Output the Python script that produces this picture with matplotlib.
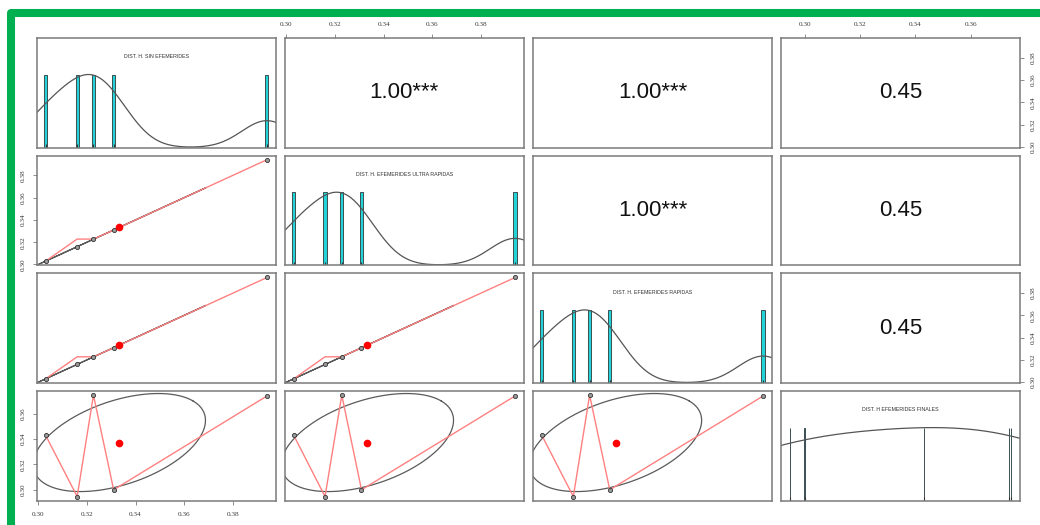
import numpy as np
import matplotlib
matplotlib.use("Agg")
import matplotlib.pyplot as plt
from matplotlib.patches import Rectangle
from matplotlib.ticker import MultipleLocator, FormatStrFormatter

labels = ["DIST. H. SIN EFEMERIDES", "DIST. H. EFEMERIDES ULTRA RAPIDAS",
          "DIST. H. EFEMERIDES RAPIDAS", "DIST. H EFEMERIDES FINALES"]
sin_efem = [0.3030, 0.3160, 0.3227, 0.3310, 0.3940]
ultra_rapidas = [0.3030, 0.3159, 0.3228, 0.3309, 0.3940]
rapidas = [0.3030, 0.3160, 0.3227, 0.3310, 0.3941]
finales = [0.3430, 0.2947, 0.3745, 0.3000, 0.3738]

# lowess curves as drawn (at the sorted x values)
smooth_fast = [0.3030, 0.3228, 0.3228, 0.3309, 0.3940]
smooth_final = [0.3430, 0.2947, 0.3745, 0.3000, 0.3738]

data = [np.array(v) for v in (sin_efem, ultra_rapidas, rapidas, finales)]
smooth = {1: smooth_fast, 2: smooth_fast, 3: smooth_final}
n = len(data)

W, H = 1040, 525
fig = plt.figure(figsize=(W / 100, H / 100), dpi=100)
fig.patch.set_facecolor("white")

frame_col = "#7a7a7a"
tick_font = dict(family="Liberation Serif", size=5.2, color="#3a3a3a")


def lims(v):
    lo, hi = v.min(), v.max()
    pad = (hi - lo) * 0.04
    return lo - pad, hi + pad


def density(v):
    sd = v.std(ddof=1)
    q1, q3 = np.percentile(v, [25, 75])
    bw = 1.06 * min(sd, (q3 - q1) / 1.34) * len(v) ** -0.2 * 1.2
    grid = np.linspace(v.min() - 3 * bw, v.max() + 3 * bw, 512)
    d = np.exp(-0.5 * ((grid[:, None] - v[None, :]) / bw) ** 2).sum(1)
    return grid, d / d.max()


def stars(r, k):
    t = abs(r) * np.sqrt((k - 2) / max(1 - r * r, 1e-12))
    # critical t values for df = 3
    if t > 12.924:
        return "***"
    if t > 5.841:
        return "**"
    if t > 3.182:
        return "*"
    return ""


left0, col_step, pw = 36.7, 248.1, 239
top0, row_step, ph = 38, 117.7, 109.5

for i in range(n):
    for j in range(n):
        l = left0 + j * col_step
        t = top0 + i * row_step
        ax = fig.add_axes([l / W, 1 - (t + ph) / H, pw / W, ph / H])
        for s in ax.spines.values():
            s.set_color(frame_col)
            s.set_linewidth(1.1)
        x = data[j]
        ax.set_xlim(*lims(x))
        if i == j:
            ax.set_ylim(0, 1.5)
            vals = np.unique(x)
            inter = np.diff(vals).min() * (len(vals) - 1) / 41
            ax.bar(vals, 1, width=2 * inter, color="#22D3D8",
                   edgecolor="#3b4f52", linewidth=0.7)
            g, d = density(x)
            ax.plot(g, d, color="#555555", lw=0.9)
            ax.vlines(x, 0, 0.045, color="#333333", lw=0.8)
            ax.text(0.5, 0.83, labels[i], transform=ax.transAxes,
                    ha="center", va="center", fontsize=3.8,
                    family="Liberation Sans", color="#333333")
        else:
            y = data[i]
            ax.set_ylim(*lims(y))
            r = np.corrcoef(x, y)[0, 1]
            if i < j:
                ax.text(0.5, 0.5, f"{r:.2f}{stars(r, len(x))}",
                        transform=ax.transAxes, ha="center", va="center",
                        fontsize=16, family="Liberation Sans", color="#111111")
            else:
                # correlation ellipse as in psych::draw.ellipse
                a = np.linspace(0, 2 * np.pi, 200)
                th = np.sign(r) / np.sqrt(2)
                shape = np.diag([np.sqrt(1 + r), np.sqrt(max(1 - r, 0))]) @ \
                    np.array([[th, th], [-th, th]])
                e = np.column_stack([np.cos(a), np.sin(a)]) @ shape
                ax.plot(e[:, 0] * x.std(ddof=1) + x.mean(),
                        e[:, 1] * y.std(ddof=1) + y.mean(),
                        color="#5a5a5a", lw=0.9)
                order = np.argsort(x)
                ax.plot(x[order], smooth[i], color="#ff8080", lw=1.0)
                ax.plot(x, y, "o", ms=3, mfc="#9a9a9a", mec="#333333", mew=0.6)
                ax.plot(x.mean(), y.mean(), "o", ms=4.5, color="red", mec="red")

        ax.xaxis.set_major_locator(MultipleLocator(0.02))
        ax.yaxis.set_major_locator(MultipleLocator(0.02))
        ax.xaxis.set_major_formatter(FormatStrFormatter("%.2f"))
        ax.yaxis.set_major_formatter(FormatStrFormatter("%.2f"))
        ax.tick_params(bottom=False, top=False, left=False, right=False,
                       labelbottom=False, labeltop=False,
                       labelleft=False, labelright=False,
                       length=3, width=0.6, color=frame_col, pad=5)
        if i == 0 and j % 2 == 1:
            ax.tick_params(top=True, labeltop=True)
            for lab in ax.get_xticklabels():
                lab.set(**tick_font)
        if i == n - 1 and j == 0:
            ax.tick_params(bottom=True, labelbottom=True)
            for lab in ax.get_xticklabels():
                lab.set(**tick_font)
        if j == 0 and i % 2 == 1:
            ax.tick_params(left=True, labelleft=True)
            for lab in ax.get_yticklabels():
                lab.set(rotation=90, va="center", **tick_font)
        if j == n - 1 and i % 2 == 0:
            ax.tick_params(right=True, labelright=True)
            for lab in ax.get_yticklabels():
                lab.set(rotation=90, va="center", **tick_font)

# green frame around the picture
fig.patches.append(Rectangle((11 / W, -0.1), 1.2, 1 - 13 / H + 0.1,
                             transform=fig.transFigure, fill=False,
                             edgecolor="#00b050", linewidth=5.8,
                             joinstyle="round"))

fig.savefig("out.png", dpi=100)
